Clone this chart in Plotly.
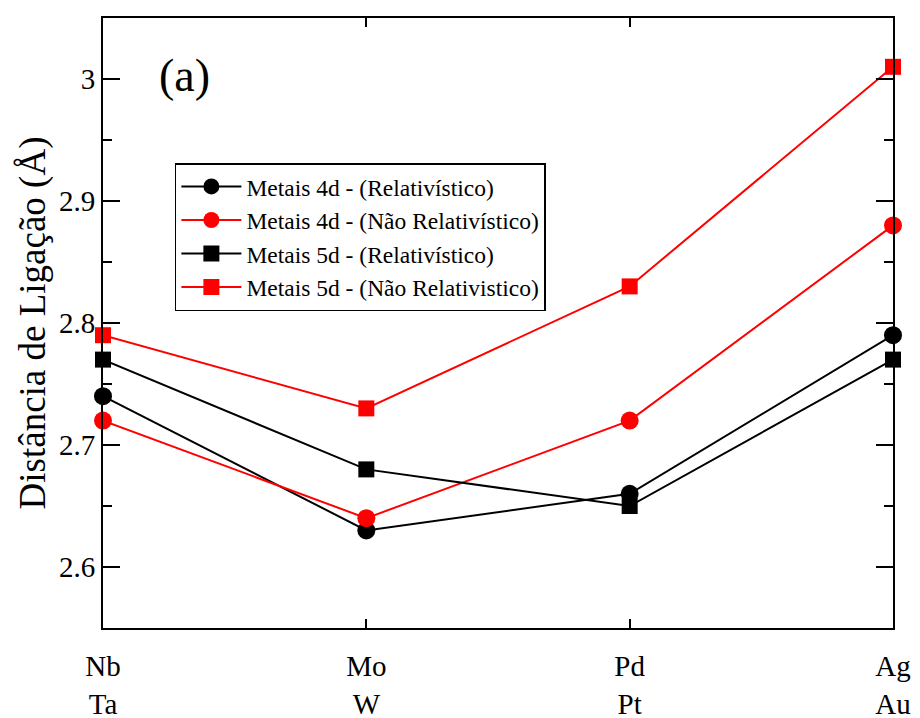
import plotly.graph_objects as go

elements = ["Nb<br>Ta", "Mo<br>W", "Pd<br>Pt", "Ag<br>Au"]
xpos = [0, 1, 2, 3]
rel_4d = [2.74, 2.63, 2.66, 2.79]
nrel_4d = [2.72, 2.64, 2.72, 2.88]
rel_5d = [2.77, 2.68, 2.65, 2.77]
nrel_5d = [2.79, 2.73, 2.83, 3.01]

names = ["Metais 4d - (Relativístico)", "Metais 4d - (Não Relativístico)",
         "Metais 5d - (Relativístico)", "Metais 5d - (Não Relativistico)"]
series = [rel_4d, nrel_4d, rel_5d, nrel_5d]
colors = ["black", "red", "black", "red"]
symbols = ["circle", "circle", "square", "square"]
sizes = [18, 18, 16, 16]

FONT = "Liberation Serif, Times New Roman, Times, DejaVu Serif, serif"
fig = go.Figure()
for n, s, c, sym, sz in zip(names, series, colors, symbols, sizes):
    fig.add_trace(go.Scatter(
        x=xpos, y=s, name=n, mode="lines+markers",
        line=dict(color=c, width=2),
        marker=dict(symbol=sym, size=sz, color=c),
        cliponaxis=False,
    ))

fig.update_layout(
    width=920, height=718,
    margin=dict(l=103, r=27, t=18, b=90),
    plot_bgcolor="white", paper_bgcolor="white",
    font=dict(family=FONT, color="black"),
    showlegend=True,
    legend=dict(
        x=0.091, y=0.762, xanchor="left", yanchor="top",
        bgcolor="white", bordercolor="black", borderwidth=1.5,
        font=dict(family=FONT, size=23.5, color="black"),
        tracegroupgap=0, itemwidth=60,
    ),
    annotations=[dict(text="(a)", x=0.31, y=3.003, xref="x", yref="y",
                      showarrow=False, font=dict(family=FONT, size=46, color="black"),
                      xanchor="center", yanchor="middle")],
)
fig.update_xaxes(
    range=[0, 3], tickvals=xpos, ticktext=elements,
    showgrid=False, zeroline=False, automargin=False,
    showline=True, linecolor="black", linewidth=2, mirror="ticks",
    ticks="inside", ticklen=9, tickwidth=1.5, tickcolor="black",
    tickfont=dict(family=FONT, size=29, color="black"),
    ticklabelstandoff=11,
)
fig.update_yaxes(
    range=[2.55, 3.05], dtick=0.1, tick0=2.6,
    showgrid=False, zeroline=False, automargin=False,
    showline=True, linecolor="black", linewidth=2, mirror="ticks",
    ticks="inside", ticklen=17, tickwidth=1.5, tickcolor="black",
    tickfont=dict(family=FONT, size=29, color="black"),
    minor=dict(dtick=0.05, ticks="inside", ticklen=9, tickcolor="black", tickwidth=1.5),
    title=dict(text="Distância de Ligação (Å)", font=dict(family=FONT, size=37, color="black"), standoff=2),
)
fig.write_html("out.html")
